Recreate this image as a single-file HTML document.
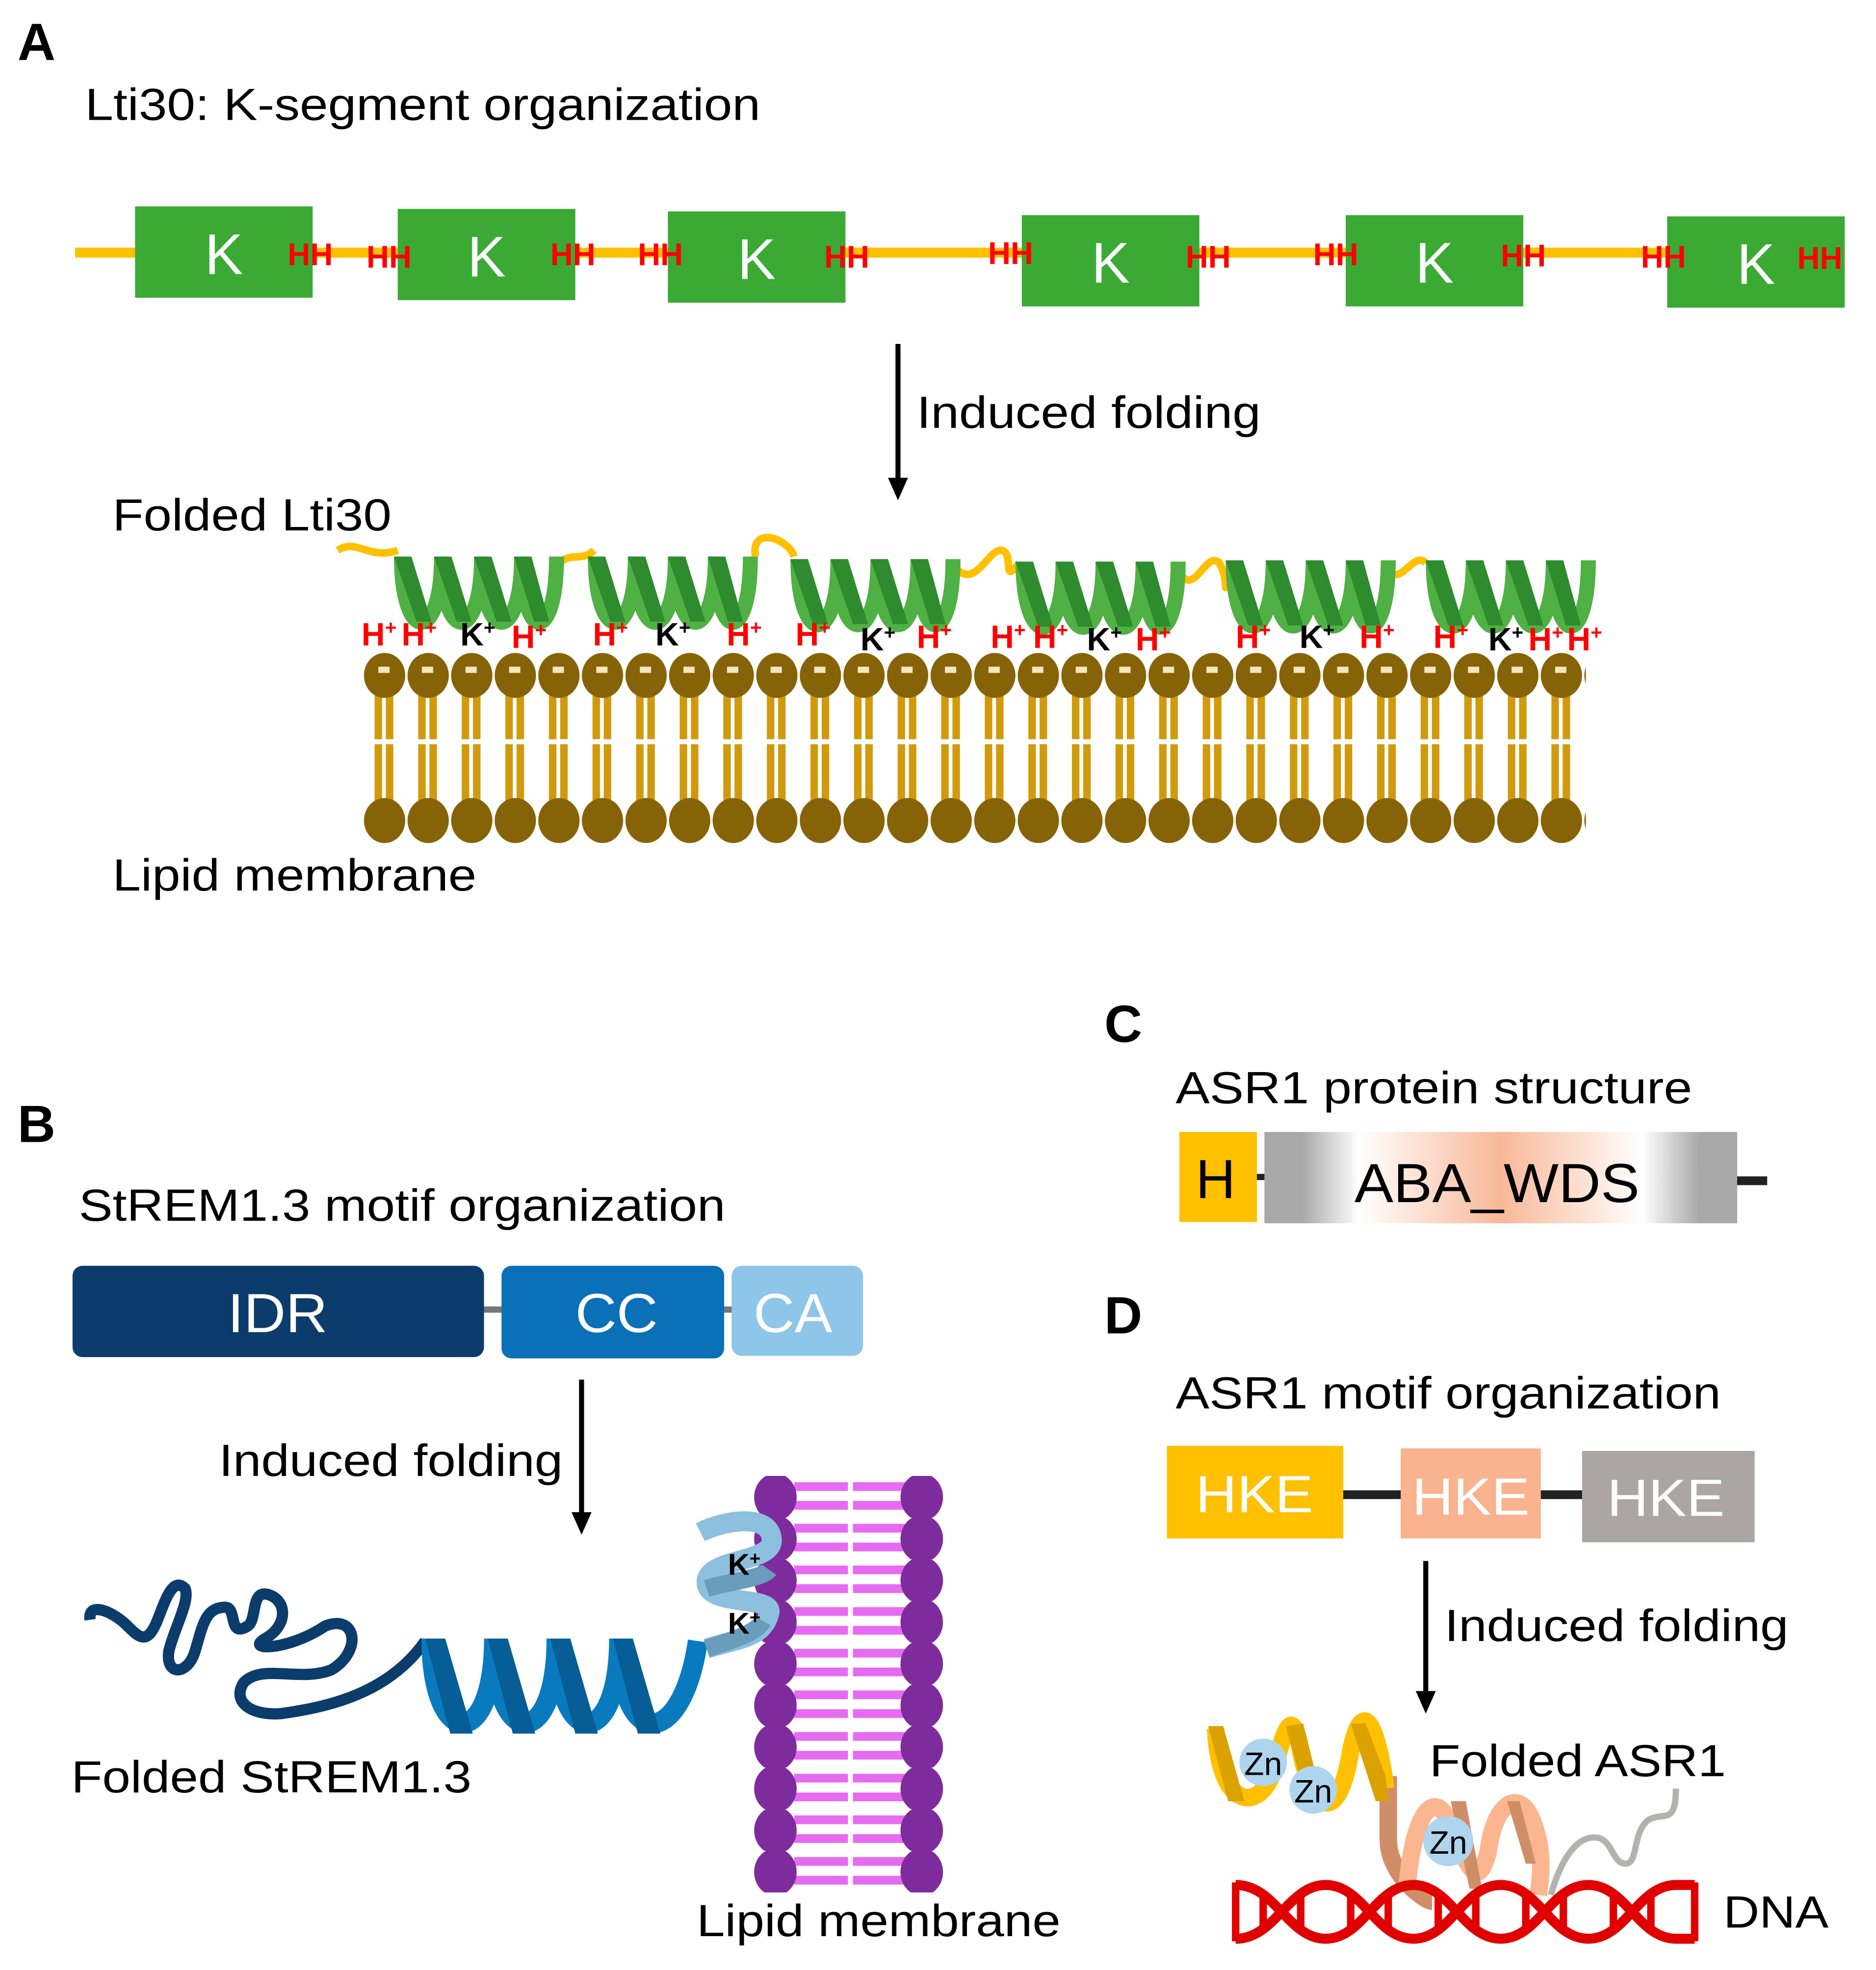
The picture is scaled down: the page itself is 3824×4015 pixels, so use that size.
<!DOCTYPE html>
<html><head><meta charset="utf-8"><style>
html,body{margin:0;padding:0;background:#fff}
svg{display:block}
text{font-family:"Liberation Sans",Arial,sans-serif}
</style></head><body>
<svg width="3824" height="4015" viewBox="0 0 1500 1575" preserveAspectRatio="none" xmlns="http://www.w3.org/2000/svg">
<defs>
<pattern id="lipA" patternUnits="userSpaceOnUse" x="290.5" y="520" width="34.85" height="160">
<rect x="9" y="30" width="6" height="41" fill="#D09A0C"/><rect x="18" y="30" width="6" height="41" fill="#D09A0C"/>
<rect x="9" y="75" width="6" height="60" fill="#D09A0C"/><rect x="18" y="75" width="6" height="60" fill="#D09A0C"/>
<ellipse cx="17" cy="20" rx="16.5" ry="18" fill="#876307"/>
<rect x="12" y="13" width="9" height="5" fill="#F5E6C0"/>
<ellipse cx="17" cy="136" rx="16.5" ry="18" fill="#876307"/>
</pattern>
<pattern id="lipB" patternUnits="userSpaceOnUse" x="590" y="1180" width="170" height="33.3">
<rect x="45" y="5" width="43" height="7" fill="#E76BF0"/><rect x="45" y="20" width="43" height="7" fill="#E76BF0"/>
<rect x="92" y="5" width="43" height="7" fill="#E76BF0"/><rect x="92" y="20" width="43" height="7" fill="#E76BF0"/>
<ellipse cx="30" cy="17" rx="17" ry="19" fill="#7E2B9E"/>
<ellipse cx="147" cy="17" rx="17" ry="19" fill="#7E2B9E"/>
</pattern>
<g id="gcoil">
<path d="M6,0 C6,70 38,70 38,0" fill="none" stroke="#4FB043" stroke-width="12"/>
<path d="M38,0 C38,70 70,70 70,0" fill="none" stroke="#4FB043" stroke-width="12"/>
<path d="M70,0 C70,70 102,70 102,0" fill="none" stroke="#4FB043" stroke-width="12"/>
<path d="M102,0 C102,70 130,70 130,0" fill="none" stroke="#4FB043" stroke-width="12"/>
<path d="M0,0 L14,0 L30,52 L18,52 Z" fill="#2E8B2E"/>
<path d="M32,0 L46,0 L62,52 L50,52 Z" fill="#2E8B2E"/>
<path d="M64,0 L78,0 L94,52 L82,52 Z" fill="#2E8B2E"/>
<path d="M96,0 L110,0 L124,52 L112,52 Z" fill="#2E8B2E"/>
</g>
<linearGradient id="aba" x1="0" x2="1" y1="0" y2="0">
<stop offset="0" stop-color="#A8A8A8"/><stop offset="0.08" stop-color="#A8A8A8"/><stop offset="0.2" stop-color="#fff"/>
<stop offset="0.5" stop-color="#F8B898"/><stop offset="0.8" stop-color="#fff"/><stop offset="0.92" stop-color="#A8A8A8"/><stop offset="1" stop-color="#A8A8A8"/>
</linearGradient>
</defs>

<!-- A -->
<text x="14" y="48" font-size="42" font-weight="bold">A</text>
<text x="68" y="96" font-size="36" textLength="540" lengthAdjust="spacingAndGlyphs">Lti30: K-segment organization</text>
<line x1="60" y1="202" x2="1475" y2="202" stroke="#FFC000" stroke-width="8"/>
<g fill="#3AAA35">
<rect x="108" y="165" width="142" height="73"/><rect x="318" y="167" width="142" height="73"/>
<rect x="534" y="169" width="142" height="73"/><rect x="817" y="172" width="142" height="73"/>
<rect x="1076" y="172" width="142" height="73"/><rect x="1333" y="173" width="142" height="73"/>
</g>
<g fill="#fff" font-size="46" text-anchor="middle">
<text x="179" y="219">K</text><text x="389" y="221">K</text><text x="605" y="223">K</text>
<text x="888" y="226">K</text><text x="1147" y="226">K</text><text x="1404" y="227">K</text>
</g>
<g fill="#FF0000" font-size="25" font-weight="bold">
<text x="230" y="212">HH</text><text x="293" y="214">HH</text><text x="440" y="212">HH</text>
<text x="510" y="212">HH</text><text x="659" y="214">HH</text><text x="790" y="211">HH</text>
<text x="948" y="214">HH</text><text x="1050" y="212">HH</text><text x="1200" y="213">HH</text>
<text x="1312" y="214">HH</text><text x="1437" y="215">HH</text>
</g>
<line x1="718" y1="275" x2="718" y2="385" stroke="#000" stroke-width="4"/>
<polygon points="710,382 726,382 718,400" fill="#000"/>
<text x="733" y="342" font-size="36" textLength="275" lengthAdjust="spacingAndGlyphs">Induced folding</text>
<text x="90" y="424" font-size="36" textLength="223" lengthAdjust="spacingAndGlyphs">Folded Lti30</text>

<g fill="none" stroke="#FFC000" stroke-width="6">
<path d="M270,440 C285,430 295,448 318,440"/>
<path d="M446,452 C455,440 465,450 475,440"/>
<path d="M604,445 C600,420 630,430 635,445"/>
<path d="M765,455 C780,470 790,440 800,440 C812,440 800,470 815,450"/>
<path d="M945,460 C955,475 965,440 975,450 C985,470 975,480 985,455"/>
<path d="M1110,455 C1120,470 1130,440 1140,450"/>
</g>
<use href="#gcoil" transform="translate(315,445)"/>
<use href="#gcoil" transform="translate(470,445)"/>
<use href="#gcoil" transform="translate(632,447)"/>
<use href="#gcoil" transform="translate(812,449)"/>
<use href="#gcoil" transform="translate(980,448)"/>
<use href="#gcoil" transform="translate(1140,448)"/>

<rect x="290" y="520" width="978" height="160" fill="url(#lipA)"/>
<g font-size="26" font-weight="bold">
<g fill="#FF0000">
<text x="289" y="516">H<tspan font-size="16" dy="-9">+</tspan></text>
<text x="321" y="516">H<tspan font-size="16" dy="-9">+</tspan></text>
<text x="409" y="518">H<tspan font-size="16" dy="-9">+</tspan></text>
<text x="474" y="516">H<tspan font-size="16" dy="-9">+</tspan></text>
<text x="581" y="516">H<tspan font-size="16" dy="-9">+</tspan></text>
<text x="636" y="516">H<tspan font-size="16" dy="-9">+</tspan></text>
<text x="733" y="518">H<tspan font-size="16" dy="-9">+</tspan></text>
<text x="792" y="518">H<tspan font-size="16" dy="-9">+</tspan></text>
<text x="826" y="518">H<tspan font-size="16" dy="-9">+</tspan></text>
<text x="908" y="520">H<tspan font-size="16" dy="-9">+</tspan></text>
<text x="988" y="518">H<tspan font-size="16" dy="-9">+</tspan></text>
<text x="1087" y="518">H<tspan font-size="16" dy="-9">+</tspan></text>
<text x="1146" y="518">H<tspan font-size="16" dy="-9">+</tspan></text>
<text x="1222" y="520">H<tspan font-size="16" dy="-9">+</tspan></text>
<text x="1253" y="520">H<tspan font-size="16" dy="-9">+</tspan></text>
</g>
<g fill="#000">
<text x="368" y="516">K<tspan font-size="16" dy="-9">+</tspan></text>
<text x="524" y="516">K<tspan font-size="16" dy="-9">+</tspan></text>
<text x="688" y="520">K<tspan font-size="16" dy="-9">+</tspan></text>
<text x="869" y="520">K<tspan font-size="16" dy="-9">+</tspan></text>
<text x="1039" y="518">K<tspan font-size="16" dy="-9">+</tspan></text>
<text x="1190" y="520">K<tspan font-size="16" dy="-9">+</tspan></text>
</g></g>
<text x="90" y="712" font-size="36" textLength="291" lengthAdjust="spacingAndGlyphs">Lipid membrane</text>

<!-- B -->
<text x="14" y="913" font-size="42" font-weight="bold">B</text>
<text x="63" y="976" font-size="36" textLength="517" lengthAdjust="spacingAndGlyphs">StREM1.3 motif organization</text>
<line x1="380" y1="1047" x2="600" y2="1047" stroke="#777" stroke-width="5"/>
<rect x="58" y="1012" width="329" height="73" rx="8" fill="#0B3C6B"/>
<rect x="401" y="1012" width="178" height="74" rx="8" fill="#0A70B8"/>
<rect x="585" y="1012" width="105" height="72" rx="8" fill="#8DC6E8"/>
<g fill="#fff" font-size="44" text-anchor="middle">
<text x="222" y="1065" textLength="80" lengthAdjust="spacingAndGlyphs">IDR</text><text x="493" y="1065" textLength="66" lengthAdjust="spacingAndGlyphs">CC</text><text x="634" y="1065" textLength="63" lengthAdjust="spacingAndGlyphs">CA</text>
</g>
<line x1="465" y1="1103" x2="465" y2="1212" stroke="#000" stroke-width="4"/>
<polygon points="457,1209 473,1209 465,1227" fill="#000"/>
<text x="175" y="1180" font-size="36" textLength="275" lengthAdjust="spacingAndGlyphs">Induced folding</text>

<path d="M72,1295 C70,1280 90,1288 102,1300 C112,1310 118,1315 126,1295 C132,1280 138,1260 148,1270 C152,1280 140,1300 135,1320 C132,1340 150,1340 156,1320 C162,1300 164,1285 180,1285 C190,1285 182,1310 198,1300 C206,1295 200,1270 215,1275 C230,1280 230,1300 212,1310 C195,1320 230,1320 260,1300 C285,1290 290,1320 265,1335 C240,1345 210,1330 195,1345 C185,1360 200,1372 225,1370 C260,1365 310,1355 340,1312" fill="none" stroke="#0B3C6B" stroke-width="9" stroke-linejoin="round"/>
<g>
<path d="M345,1310 C345,1400 395,1400 395,1310" fill="none" stroke="#0A7ABF" stroke-width="16"/>
<path d="M395,1310 C395,1400 445,1400 445,1310" fill="none" stroke="#0A7ABF" stroke-width="16"/>
<path d="M445,1310 C445,1400 495,1400 495,1310" fill="none" stroke="#0A7ABF" stroke-width="16"/>
<path d="M495,1310 C495,1400 545,1400 558,1312" fill="none" stroke="#0A7ABF" stroke-width="16"/>
<path d="M340,1310 L356,1310 L378,1386 L360,1386 Z" fill="#075D95"/>
<path d="M390,1310 L406,1310 L428,1386 L410,1386 Z" fill="#075D95"/>
<path d="M440,1310 L456,1310 L478,1386 L460,1386 Z" fill="#075D95"/>
<path d="M490,1310 L506,1310 L528,1386 L510,1386 Z" fill="#075D95"/>
</g>
<rect x="590" y="1180" width="170" height="333" fill="url(#lipB)"/>
<path d="M565,1318 C590,1310 610,1310 615,1290 C620,1275 565,1285 565,1265 C565,1245 620,1250 617,1230 C615,1210 580,1215 560,1225" fill="none" stroke="#8DBFDE" stroke-width="16"/>
<path d="M565,1318 C590,1310 605,1305 610,1296 M565,1270 C580,1265 610,1262 615,1255" fill="none" stroke="#6A9CBC" stroke-width="14"/>
<g font-size="24" font-weight="bold" fill="#000">
<text x="582" y="1259">K<tspan font-size="15" dy="-8">+</tspan></text>
<text x="582" y="1306">K<tspan font-size="15" dy="-8">+</tspan></text>
</g>
<text x="57" y="1433" font-size="36" textLength="320" lengthAdjust="spacingAndGlyphs">Folded StREM1.3</text>
<text x="557" y="1548" font-size="36" textLength="291" lengthAdjust="spacingAndGlyphs">Lipid membrane</text>

<!-- C -->
<text x="883" y="833" font-size="42" font-weight="bold">C</text>
<text x="940" y="882" font-size="36" textLength="413" lengthAdjust="spacingAndGlyphs">ASR1 protein structure</text>
<line x1="1000" y1="941" x2="1015" y2="941" stroke="#222" stroke-width="5"/>
<line x1="1385" y1="944" x2="1413" y2="944" stroke="#222" stroke-width="7"/>
<rect x="943" y="905" width="62" height="72" fill="#FFC000"/>
<rect x="1011" y="905" width="378" height="73" fill="url(#aba)"/>
<text x="972" y="958" font-size="44" text-anchor="middle">H</text>
<text x="1197" y="961" font-size="44" text-anchor="middle" textLength="228" lengthAdjust="spacingAndGlyphs">ABA_WDS</text>

<!-- D -->
<text x="883" y="1066" font-size="42" font-weight="bold">D</text>
<text x="940" y="1126" font-size="36" textLength="436" lengthAdjust="spacingAndGlyphs">ASR1 motif organization</text>
<line x1="1070" y1="1195" x2="1270" y2="1195" stroke="#222" stroke-width="7"/>
<rect x="933" y="1156" width="141" height="74" fill="#FFC000"/>
<rect x="1120" y="1158" width="112" height="72" fill="#F9B38F"/>
<rect x="1265" y="1160" width="138" height="73" fill="#ABA6A3"/>
<g fill="#fff" font-size="42" text-anchor="middle">
<text x="1003" y="1209" textLength="94" lengthAdjust="spacingAndGlyphs">HKE</text><text x="1176" y="1211" textLength="94" lengthAdjust="spacingAndGlyphs">HKE</text><text x="1332" y="1212" textLength="94" lengthAdjust="spacingAndGlyphs">HKE</text>
</g>
<line x1="1140" y1="1248" x2="1140" y2="1355" stroke="#000" stroke-width="4"/>
<polygon points="1132,1352 1148,1352 1140,1370" fill="#000"/>
<text x="1155" y="1312" font-size="36" textLength="275" lengthAdjust="spacingAndGlyphs">Induced folding</text>
<text x="1143" y="1420" font-size="36" textLength="237" lengthAdjust="spacingAndGlyphs">Folded ASR1</text>

<path d="M1110,1420 L1110,1470 C1110,1500 1140,1520 1145,1520" fill="none" stroke="#D08E68" stroke-width="14"/>
<path d="M972,1382 C975,1450 1010,1450 1020,1410 C1030,1370 1035,1372 1040,1400 C1050,1450 1070,1460 1080,1400 C1088,1360 1100,1370 1108,1430" fill="none" stroke="#FFC000" stroke-width="14"/>
<path d="M966,1380 L978,1380 L995,1440 L982,1440 Z M1028,1380 L1042,1378 L1055,1430 L1042,1430 Z M1080,1378 L1092,1378 L1108,1420 L1110,1440 L1100,1440 Z" fill="#DAA200"/>
<path d="M1125,1510 C1130,1450 1145,1435 1155,1450 C1170,1480 1180,1520 1190,1480 C1195,1440 1215,1430 1225,1455 C1235,1480 1232,1500 1230,1515" fill="none" stroke="#FBB58F" stroke-width="14"/>
<path d="M1160,1440 L1172,1440 L1185,1510 L1175,1510 Z M1205,1440 L1215,1440 L1228,1490 L1220,1490 Z" fill="#D08E68"/>
<path d="M1240,1515 C1250,1480 1265,1465 1280,1470 C1290,1475 1290,1490 1300,1490 C1310,1490 1305,1465 1318,1455 C1330,1448 1340,1460 1340,1430" fill="none" stroke="#B4B2B0" stroke-width="5"/>
<circle cx="1010" cy="1409" r="19" fill="#AED4EE"/>
<circle cx="1050" cy="1431" r="19" fill="#AED4EE"/>
<circle cx="1158" cy="1472" r="20" fill="#AED4EE"/>
<g font-size="26" text-anchor="middle"><text x="1010" y="1419">Zn</text><text x="1050" y="1441">Zn</text><text x="1158" y="1482">Zn</text></g>

<g fill="none" stroke="#E00000" stroke-width="8">
<path d="M988,1507 C1020,1507 1030,1550 1060,1550 C1090,1550 1100,1507 1130,1507 C1160,1507 1170,1550 1200,1550 C1230,1550 1240,1507 1270,1507 C1300,1507 1310,1550 1340,1550 L1355,1550"/>
<path d="M988,1550 C1020,1550 1030,1507 1060,1507 C1090,1507 1100,1550 1130,1550 C1160,1550 1170,1507 1200,1507 C1230,1507 1240,1550 1270,1550 C1300,1550 1310,1507 1340,1507 L1355,1507"/>
</g>
<g stroke="#E00000" stroke-width="6">
<line x1="988" y1="1505" x2="988" y2="1552"/><line x1="1010" y1="1512" x2="1010" y2="1545"/>
<line x1="1040" y1="1512" x2="1040" y2="1545"/><line x1="1080" y1="1512" x2="1080" y2="1545"/>
<line x1="1110" y1="1512" x2="1110" y2="1545"/><line x1="1150" y1="1512" x2="1150" y2="1545"/>
<line x1="1180" y1="1512" x2="1180" y2="1545"/><line x1="1220" y1="1512" x2="1220" y2="1545"/>
<line x1="1250" y1="1512" x2="1250" y2="1545"/><line x1="1290" y1="1512" x2="1290" y2="1545"/>
<line x1="1320" y1="1512" x2="1320" y2="1545"/><line x1="1355" y1="1505" x2="1355" y2="1552"/>
</g>
<text x="1378" y="1541" font-size="36" textLength="84" lengthAdjust="spacingAndGlyphs">DNA</text>
</svg>
</body></html>
